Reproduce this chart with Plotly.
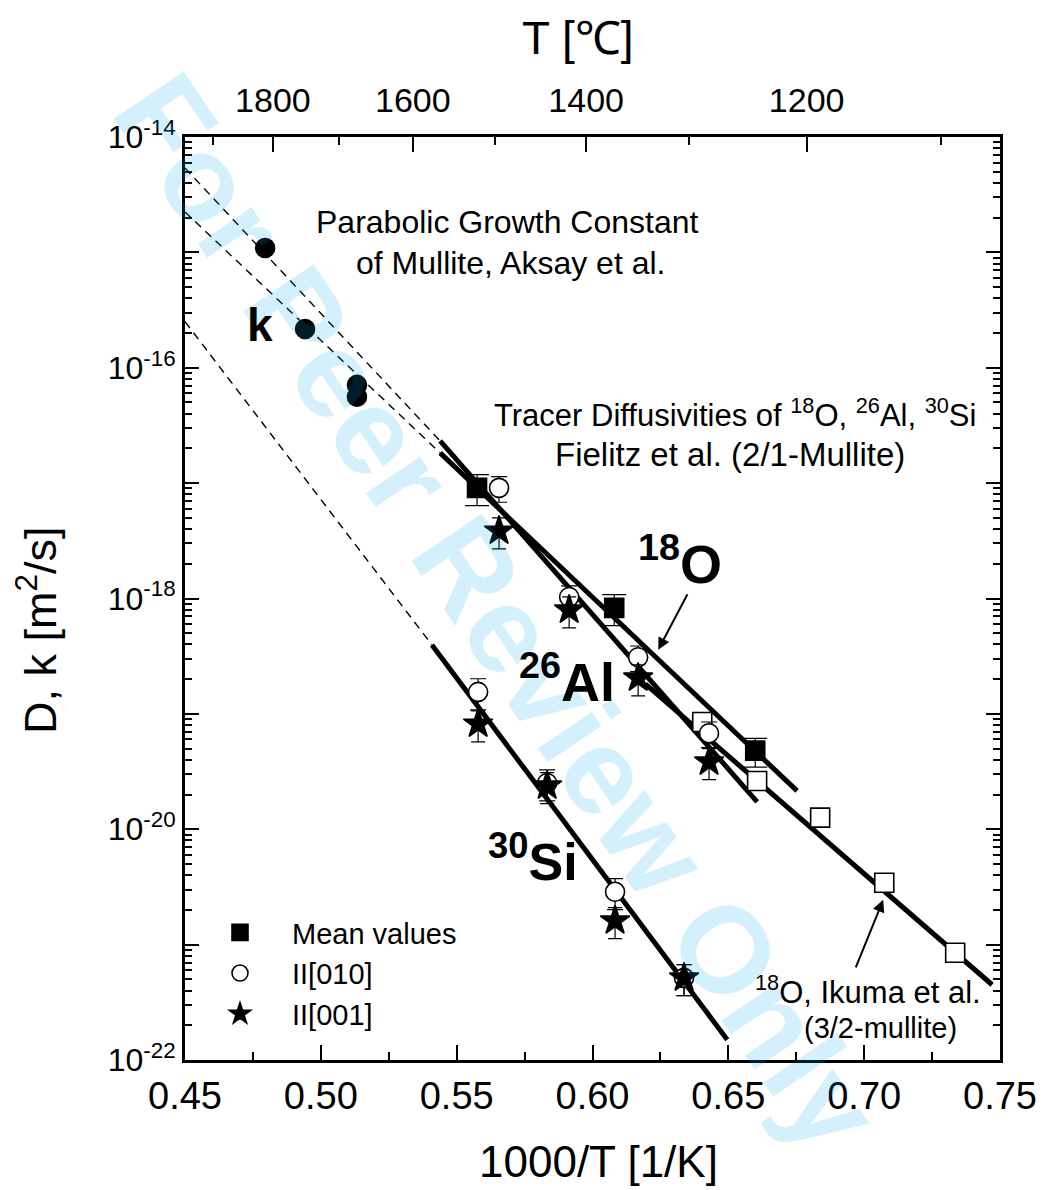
import plotly.graph_objects as go

# ---------------- data ----------------
# Parabolic growth constant of mullite, Aksay et al.
k_x = [0.4795, 0.4942, 0.5133, 0.5133]
k_D = [1.09e-15, 2.17e-16, 7.1e-17, 5.6e-17]

# 18O tracer diffusivity, Fielitz et al., mean values
O_mean_x = [0.5575, 0.6080, 0.6599]
O_mean_D = [9.1e-18, 8.3e-19, 4.8e-20]
O_mean_rel = [0.30, 0.30, 0.28]

# 26Al tracer diffusivity, Fielitz et al.
Al_x = [0.5656, 0.5914, 0.6168, 0.6429]
Al_010_D = [9.1e-18, 1.03e-18, 3.1e-19, 6.8e-20]
Al_001_D = [3.85e-18, 7.96e-19, 2.05e-19, 3.84e-20]
Al_010_rel = [0.25, 0.25, 0.25, 0.25]
Al_001_rel = [0.30, 0.30, 0.30, 0.30]

# 30Si tracer diffusivity, Fielitz et al.
Si_x = [0.5579, 0.5833, 0.6083, 0.6337]
Si_010_D = [1.55e-19, 2.52e-20, 2.87e-21, 5.15e-22]
Si_001_D = [8.18e-20, 2.38e-20, 1.61e-21, 5.15e-22]
Si_010_rel = [0.30, 0.30, 0.30, 0.30]
Si_001_rel = [0.30, 0.30, 0.30, 0.30]

# 18O, Ikuma et al. (3/2-mullite)
Ik_x = [0.6404, 0.6606, 0.6838, 0.7074, 0.7335]
Ik_D = [8.5e-20, 2.62e-20, 1.26e-20, 3.44e-21, 8.5e-22]

# Arrhenius fit lines (solid) and their extrapolations (dashed)
O_fit_x = [0.5439, 0.6753]
O_fit_D = [1.83e-17, 2.15e-20]
Al_fit_x = [0.5439, 0.6606]
Al_fit_D = [2.32e-17, 1.73e-20]
Si_fit_x = [0.5409, 0.6496]
Si_fit_D = [3.96e-19, 1.50e-22]
Ik_fit_x = [0.6194, 0.7471]
Ik_fit_D = [1.82e-19, 4.49e-22]
O_ext_x = [0.45, 0.5439]
O_ext_D = [2.24e-15, 1.83e-17]
Al_ext_x = [0.45, 0.5439]
Al_ext_D = [5.38e-15, 2.32e-17]
Si_ext_x = [0.45, 0.5409]
Si_ext_D = [2.51e-16, 3.96e-19]

# axis ticks
x_range = [0.45, 0.75]
y_exp_range = [-22, -14]
top_T_major = [1800, 1600, 1400, 1200]
top_T_minor = [1900, 1700, 1500, 1300, 1100]

# ---------------- styling ----------------
NARROW = "Liberation Sans Narrow, Arial Narrow, Liberation Sans, Arial, sans-serif"
SANS = "Liberation Sans, Arial, Helvetica, sans-serif"
OFF = 8                      # default page margin of the html body
W, H = 1053 - OFF, 1190 - OFF
ML, MR, MT, MB = 185 - OFF, 53, 137 - OFF, 130
PW, PH = W - ML - MR, H - MT - MB


def px(xp):                  # page pixel -> paper
    return (xp - OFF - ML) / PW


def py(yp):
    return (H - MB - (yp - OFF)) / PH


fig = go.Figure()


def line(xs, ys, dash=None, width=5):
    fig.add_trace(go.Scatter(x=xs, y=ys, mode="lines", showlegend=False,
                             hoverinfo="skip",
                             line=dict(color="black", width=width,
                                       dash=dash)))


for xs, ys in [(O_ext_x, O_ext_D), (Al_ext_x, Al_ext_D), (Si_ext_x, Si_ext_D)]:
    line(xs, ys, dash="8px,6px", width=1.4)
for xs, ys in [(O_fit_x, O_fit_D), (Al_fit_x, Al_fit_D), (Si_fit_x, Si_fit_D),
               (Ik_fit_x, Ik_fit_D)]:
    line(xs, ys, width=5)


def pts(xs, ys, symbol, size, fill, name=None, rel=None, cap=8, legend=False):
    err = None
    if rel is not None:
        err = dict(type="data", array=[d * r for d, r in zip(ys, rel)],
                   color="black", thickness=1.2, width=cap)
    fig.add_trace(go.Scatter(
        x=xs, y=ys, mode="markers", name=name, showlegend=legend,
        error_y=err, hoverinfo="x+y",
        marker=dict(symbol=symbol, size=size, color=fill,
                    line=dict(color="black", width=1.6))))


# Ikuma open squares
pts(Ik_x, Ik_D, "square", 19, "white")
# k filled circles
pts(k_x, k_D, "circle", 19, "black")
# O mean values
pts(O_mean_x, O_mean_D, "square", 19, "black", name="Mean values",
    rel=O_mean_rel, cap=12, legend=True)
# Al
pts(Al_x, Al_010_D, "circle", 19, "white", name="II[010]", rel=Al_010_rel,
    cap=8, legend=True)
pts(Al_x, Al_001_D, "star", 22, "black", name="II[001]", rel=Al_001_rel,
    cap=7, legend=True)
# Si
pts(Si_x, Si_010_D, "circle", 19, "white", rel=Si_010_rel, cap=8)
pts(Si_x, Si_001_D, "star", 22, "black", rel=Si_001_rel, cap=7)

# top axis helper trace (for xaxis2)
fig.add_trace(go.Scatter(x=[None], y=[None], xaxis="x2", showlegend=False,
                         hoverinfo="skip"))

y_tickvals = [10.0 ** e for e in range(y_exp_range[0], y_exp_range[1] + 1)]
y_ticktext = [("10<sup>%d</sup>" % e) if e % 2 == 0 else ""
              for e in range(y_exp_range[0], y_exp_range[1] + 1)]
y_minor = [m * 10.0 ** e for e in range(y_exp_range[0], y_exp_range[1])
           for m in range(2, 10)]

fig.update_layout(
    width=W, height=H,
    margin=dict(l=ML, r=MR, t=MT, b=MB),
    paper_bgcolor="white", plot_bgcolor="white",
    font=dict(family=SANS, color="black"),
    xaxis=dict(range=x_range, dtick=0.05, tick0=0.45, tickformat=".2f",
               ticks="inside", ticklen=15, tickwidth=2, tickcolor="black",
               minor=dict(dtick=0.025, tick0=0.45, ticks="inside", ticklen=8,
                          tickwidth=2, tickcolor="black"),
               showline=True, linewidth=3, linecolor="black",
               showgrid=False, zeroline=False,
               tickfont=dict(family=NARROW, size=38)),
    xaxis2=dict(overlaying="x", side="top", range=x_range,
                tickmode="array",
                tickvals=[1000.0 / (t + 273.15) for t in top_T_major],
                ticktext=[str(t) for t in top_T_major],
                ticks="inside", ticklen=15, tickwidth=2, tickcolor="black",
                minor=dict(tickmode="array",
                           tickvals=[1000.0 / (t + 273.15) for t in top_T_minor],
                           ticks="inside", ticklen=8, tickwidth=2,
                           tickcolor="black"),
                showline=True, linewidth=3, linecolor="black",
                showgrid=False, zeroline=False, ticklabelstandoff=8,
                tickfont=dict(family=NARROW, size=34)),
    yaxis=dict(type="log", range=y_exp_range, tickmode="array",
               tickvals=y_tickvals, ticktext=y_ticktext,
               ticks="inside", ticklen=14, tickwidth=2, tickcolor="black",
               minor=dict(tickmode="array", tickvals=y_minor, ticks="inside",
                          ticklen=7, tickwidth=1.5, tickcolor="black"),
               showline=True, linewidth=3, linecolor="black", mirror="ticks",
               showgrid=False, zeroline=False,
               tickfont=dict(family=SANS, size=32)),
    legend=dict(x=px(188), y=py(907), xanchor="left", yanchor="top",
                bgcolor="rgba(0,0,0,0)", font=dict(family=SANS, size=29),
                itemwidth=94, traceorder="normal", tracegroupgap=0),
    showlegend=True,
)

ann = []


def text(t, xp, yp, size, family=SANS, bold=False, xanchor="center", **kw):
    if bold:
        t = "<b>" + t + "</b>"
    ann.append(dict(text=t, x=px(xp), y=py(yp), xref="paper", yref="paper",
                    showarrow=False, xanchor=xanchor, yanchor="middle",
                    font=dict(family=family, size=size, color="black"), **kw))


# watermark
ann.append(dict(text="<b>For Peer Review Only</b>", x=px(498), y=py(612),
                xref="paper", yref="paper", showarrow=False, textangle=56,
                font=dict(family=SANS, size=123,
                          color="rgba(0,165,235,0.17)")))

text("T [℃]", 578, 38, 46, family=NARROW)
text("1000/T [1/K]", 598, 1161, 44, family=NARROW)
ann.append(dict(text="D, k [m<sup>2</sup>/s]", x=px(42 - 36), y=py(630),
                xref="paper", yref="paper", showarrow=False, textangle=-90,
                font=dict(family=NARROW, size=45, color="black")))

text("Parabolic Growth Constant", 507, 222, 32)
text("of Mullite, Aksay et al.", 510, 263, 32)
text("k", 260, 325, 46, bold=True)
text("Tracer Diffusivities of <sup>18</sup>O, <sup>26</sup>Al, <sup>30</sup>Si",
     735, 413, 31)
text("Fielitz et al. (2/1-Mullite)", 730, 454, 33)
text("<sup>18</sup>O", 680, 560, 54, bold=True)
text("<sup>26</sup>Al", 567, 678, 54, bold=True)
text("<sup>30</sup>Si", 533, 858, 52, bold=True)
text("<sup>18</sup>O, Ikuma et al.", 868, 990, 31)
text("(3/2-mullite)", 880, 1028, 29)

# arrows
ann.append(dict(x=0.6242, y=-18.445, xref="x", yref="y", showarrow=True,
                ax=30, ay=-57, arrowhead=2, arrowsize=1.2, arrowwidth=2,
                arrowcolor="black", text=""))
ann.append(dict(x=0.7070, y=-20.612, xref="x", yref="y", showarrow=True,
                ax=-28, ay=69, arrowhead=2, arrowsize=1.2, arrowwidth=2,
                arrowcolor="black", text=""))

fig.update_layout(annotations=ann)
fig.write_html("out.html")
